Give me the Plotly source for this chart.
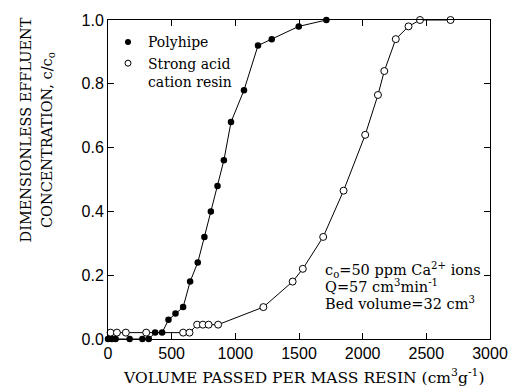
import plotly.graph_objects as go

# Polyhipe (filled circles)
poly_x = [0, 30, 60, 170, 270, 320, 370, 425, 475, 530, 590, 645, 705, 757, 808, 860, 910, 966, 1068, 1178, 1286, 1498, 1715]
poly_y = [0, 0, 0, 0, 0, 0, 0.02, 0.02, 0.06, 0.08, 0.10, 0.18, 0.24, 0.32, 0.40, 0.48, 0.56, 0.68, 0.78, 0.92, 0.94, 0.98, 1.0]

# Strong acid cation resin (open circles)
resin_x = [20, 70, 140, 300, 590, 640, 700, 745, 790, 865, 1220, 1450, 1530, 1690, 1850, 2020, 2120, 2170, 2260, 2360, 2450, 2690]
resin_y = [0.02, 0.02, 0.02, 0.02, 0.02, 0.02, 0.045, 0.045, 0.045, 0.045, 0.10, 0.18, 0.22, 0.32, 0.465, 0.64, 0.765, 0.84, 0.94, 0.98, 1.0, 1.0]

x_ticks = [0, 500, 1000, 1500, 2000, 2500, 3000]
y_ticks = [0.0, 0.2, 0.4, 0.6, 0.8, 1.0]

legend_names = ["Polyhipe", "Strong acid<br>cation resin"]
cond_lines = [
    "c<sub>o</sub>=50 ppm Ca<sup>2+</sup> ions",
    "Q=57 cm<sup>3</sup>min<sup>-1</sup>",
    "Bed volume=32 cm<sup>3</sup>",
]
x_title = "VOLUME PASSED PER MASS RESIN (cm<sup>3</sup>g<sup>-1</sup>)"
y_title_lines = ["DIMENSIONLESS EFFLUENT", "CONCENTRATION, c/c<sub>o</sub>"]

SERIF = "DejaVu Serif"
SANS = "Liberation Sans"

fig = go.Figure()
fig.add_trace(go.Scatter(
    x=poly_x, y=poly_y, mode="lines+markers", showlegend=False,
    line=dict(color="black", width=1),
    marker=dict(symbol="circle", size=6.5, color="black"),
    cliponaxis=False,
))
fig.add_trace(go.Scatter(
    x=resin_x, y=resin_y, mode="lines+markers", showlegend=False,
    line=dict(color="black", width=1),
    marker=dict(symbol="circle", size=7, color="white", line=dict(color="black", width=1)),
    cliponaxis=False,
))
# legend-only entries (markers without lines)
fig.add_trace(go.Scatter(
    x=[None], y=[None], mode="markers", name=legend_names[0],
    marker=dict(symbol="circle", size=6, color="black"),
))
fig.add_trace(go.Scatter(
    x=[None], y=[None], mode="markers", name=legend_names[1],
    marker=dict(symbol="circle", size=6, color="white", line=dict(color="black", width=1)),
))

axis_common = dict(
    showgrid=False, zeroline=False, showline=True, linecolor="black", linewidth=1,
    mirror="ticks", ticks="inside", ticklen=6, tickwidth=1, tickcolor="black",
    tickfont=dict(family=SANS, size=16, color="black"),
)
fig.update_xaxes(range=[0, 3000], tickvals=x_ticks, ticktext=[str(v) for v in x_ticks], **axis_common)
fig.update_yaxes(range=[0, 1.0], tickvals=y_ticks, ticktext=[f"{v:.1f}" for v in y_ticks], **axis_common)

annotations = []
cond_y = [0.2165, 0.1667, 0.1137]
for t, yy in zip(cond_lines, cond_y):
    annotations.append(dict(text=t, xref="paper", yref="paper", x=0.563, y=yy,
                            xanchor="left", yanchor="middle", showarrow=False,
                            font=dict(family=SERIF, size=14.5, color="black")))
annotations.append(dict(text=x_title, xref="paper", yref="paper", x=0.512, y=-0.117,
                        xanchor="center", yanchor="middle", showarrow=False,
                        font=dict(family=SERIF, size=15.5, color="black")))
for t, xx, yy in zip(y_title_lines, [-0.2136, -0.1586], [0.655, 0.625]):
    annotations.append(dict(text=t, xref="paper", yref="paper", x=xx, y=yy,
                            xanchor="center", yanchor="middle", showarrow=False, textangle=-90,
                            font=dict(family=SERIF, size=14.5, color="black")))

fig.update_layout(
    width=520, height=390,
    margin=dict(l=108, r=21, t=18, b=51),
    paper_bgcolor="white", plot_bgcolor="white",
    showlegend=True,
    legend=dict(x=0.0, y=0.98, xanchor="left", yanchor="top",
                bgcolor="rgba(0,0,0,0)", font=dict(family=SERIF, size=14, color="black"),
                itemwidth=30, valign="top", tracegroupgap=0),
    annotations=annotations,
)

fig.write_html("out.html")
